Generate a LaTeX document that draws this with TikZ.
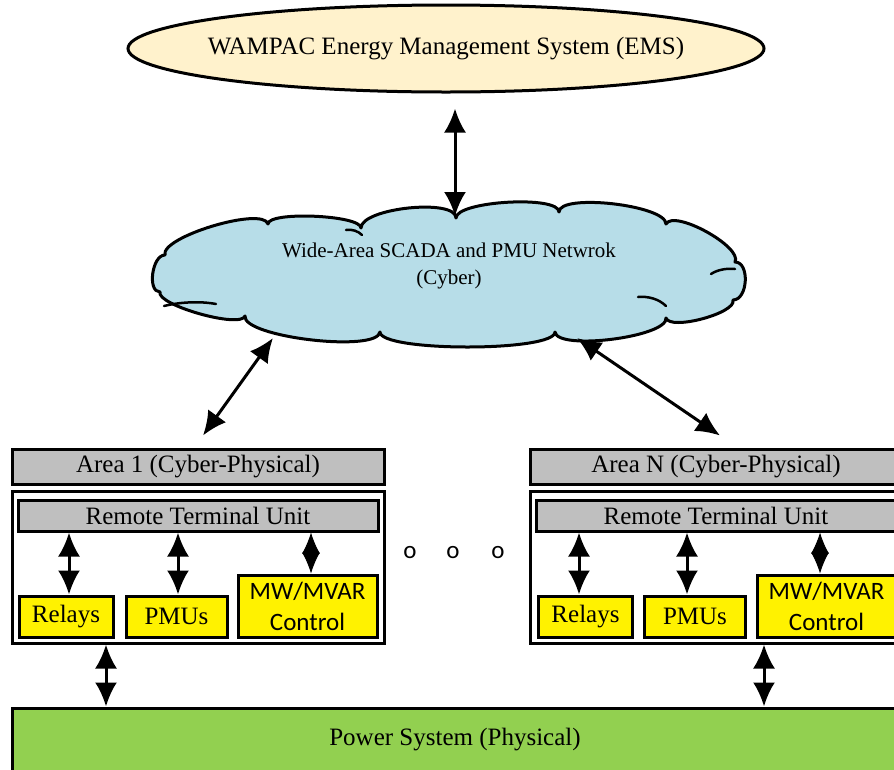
\documentclass[tikz,border=0pt]{standalone}
\usepackage{fontspec}
\setmainfont{Liberation Serif}
\newfontfamily\carl{Carlito}
\usetikzlibrary{arrows.meta,shapes.geometric,calc}
\definecolor{emsfill}{HTML}{FFF2CC}
\definecolor{cloudblue}{HTML}{B7DDE8}
\definecolor{boxgray}{HTML}{BFBFBF}
\definecolor{pgreen}{HTML}{92D050}
\begin{document}
\begin{tikzpicture}[x=1pt,y=-1pt,
  box/.style={draw=black,line width=3pt,rectangle,inner sep=0pt,anchor=center,font=\fontsize{25}{30}\selectfont},
  graybox/.style={box,fill=boxgray},
  ybox/.style={box,fill=yellow,line width=3pt},
  arr/.style={{Latex[length=24pt,width=22pt]}-{Latex[length=24pt,width=22pt]},line width=3pt},
  diam/.style={{Latex[length=21pt,width=18pt]}-{Latex[length=21pt,width=18pt]},line width=1pt},
  dot/.style={font=\carl\fontsize{25}{30}\selectfont,inner sep=0pt}
]
\clip (0,0) rectangle (894,769);
\fill[white] (0,0) rectangle (894,769);
% EMS
\node[ellipse,draw,line width=3pt,fill=emsfill,minimum width=636pt,minimum height=87pt,inner sep=0pt] (ems) at (446,48.5) {};
\node[font=\fontsize{25}{30}\selectfont,inner sep=0pt] (emst) at (ems.center) {WAMPAC Energy Management System (EMS)};
% cloud
\draw[line width=3pt,fill=cloudblue,line join=round]
  (160,292) .. controls +(-13,0) and +(-13,0) .. (165,255)
  .. controls +(-5,-18) and +(-5,-18) .. (268,224)
  .. controls +(0,-13) and +(0,-13) .. (361,228)
  .. controls +(0,-20) and +(0,-20) .. (456,218)
  .. controls +(0,-17) and +(0,-17) .. (559,212)
  .. controls +(0,-19) and +(0,-19) .. (666,224)
  .. controls +(8,-15) and +(8,-15) .. (735,262)
  .. controls +(15,0) and +(15,0) .. (733,300)
  .. controls +(4,13) and +(4,13) .. (666,318)
  .. controls +(2,19) and +(2,19) .. (555,332)
  .. controls +(0,20) and +(0,20) .. (380,332)
  .. controls +(-3,21) and +(-3,21) .. (245,316)
  .. controls +(-4,13) and +(-4,13) .. cycle;
\draw[line width=2.5pt,line cap=round] (346,230) .. controls (352,229) and (358,231) .. (362,235);
\draw[line width=2.5pt,line cap=round] (711,274) .. controls (717,270) and (726,268) .. (735,269);
\draw[line width=2.5pt,line cap=round] (638,297) .. controls (648,296) and (659,299) .. (666,306);
\draw[line width=2.5pt,line cap=round] (164,306) .. controls (180,302) and (200,301) .. (216,304);
\coordinate (clN) at (455,216);
\coordinate (clSW) at (273,338);
\coordinate (clSE) at (577,338);
\node[font=\fontsize{21}{27}\selectfont,align=center,inner sep=0pt] (clt) at (449,266) {Wide-Area SCADA and PMU Netwrok\\(Cyber)};
\draw[arr] ([xshift=9pt,yshift=-15pt]ems.south) -- (clN);
% Area 1
\node[graybox,minimum width=372pt,minimum height=35pt] (hdr1) at (198,466.5) {Area 1 (Cyber-Physical)};
\node[box,minimum width=372pt,minimum height=152pt] (box1) at (198,567) {};
\node[graybox,minimum width=360pt,minimum height=31pt] (rtu1) at (198,515.5) {Remote Terminal Unit};
\node[ybox,minimum width=94pt,minimum height=41pt] (rel1) at (66,616.5) {Relays};
\node[ybox,minimum width=101pt,minimum height=41pt] (pmu1) at (176.5,616.5) {PMUs};
\node[ybox,minimum width=139pt,minimum height=62pt,align=center,font=\carl\fontsize{25}{31}\selectfont] (mw1) at (307.5,606) {MW/MVAR\\Control};
% Area N
\node[graybox,minimum width=372pt,minimum height=35pt] (hdrN) at (716,466.5) {Area N (Cyber-Physical)};
\node[box,minimum width=372pt,minimum height=152pt] (boxN) at (716,567) {};
\node[graybox,minimum width=360pt,minimum height=31pt] (rtuN) at (716,515.5) {Remote Terminal Unit};
\node[ybox,minimum width=94pt,minimum height=41pt] (relN) at (585.5,616.5) {Relays};
\node[ybox,minimum width=101pt,minimum height=41pt] (pmuN) at (695,616.5) {PMUs};
\node[ybox,minimum width=139pt,minimum height=62pt,align=center,font=\carl\fontsize{25}{31}\selectfont] (mwN) at (826.5,606) {MW/MVAR\\Control};
% power system
\node[box,fill=pgreen,minimum width=886pt,minimum height=64pt] (pow) at (455,740) {Power System (Physical)};
% dots
\node[dot] (d1) at (410,553) {o};
\node[dot] (d2) at (453,553) {o};
\node[dot] (d3) at (498,553) {o};
% cloud to areas
\draw[arr] (clSW) -- ([xshift=5pt,yshift=12pt]hdr1.north);
\draw[arr] (clSE) -- ([xshift=4pt,yshift=12pt]hdrN.north);
% inner arrows area 1
\draw[arr] ($(rel1.north |- rtu1.south)+(3,0)$) -- ($(rel1.north)+(3,0)$);
\draw[arr] ($(pmu1.north |- rtu1.south)+(1.5,0)$) -- ($(pmu1.north)+(1.5,0)$);
\draw[diam] ($(mw1.north |- rtu1.south)+(3.5,0)$) -- ($(mw1.north)+(3.5,0)$);
% inner arrows area N
\draw[arr] ($(relN.north |- rtuN.south)+(-6.5,0)$) -- ($(relN.north)+(-6.5,0)$);
\draw[arr] ($(pmuN.north |- rtuN.south)+(-8,0)$) -- ($(pmuN.north)+(-8,0)$);
\draw[diam] ($(mwN.north |- rtuN.south)+(-6.5,0)$) -- ($(mwN.north)+(-6.5,0)$);
% areas to power system
\draw[arr] ($(box1.south)+(-92,0)$) -- ($(pow.north)+(-349,0)$);
\draw[arr] ($(boxN.south)+(48,0)$) -- ($(pow.north)+(309,0)$);
\end{tikzpicture}
\end{document}
